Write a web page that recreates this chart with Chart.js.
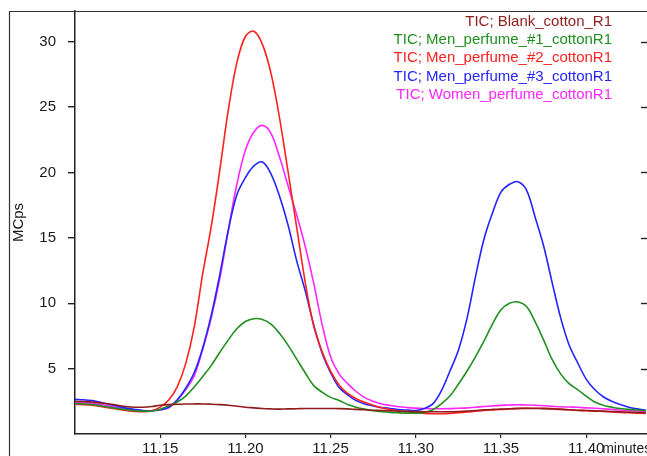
<!DOCTYPE html>
<html>
<head>
<meta charset="utf-8">
<script src="https://cdn.jsdelivr.net/npm/chart.js@4.4.1/dist/chart.umd.min.js"></script>
<style>
  html, body { margin: 0; padding: 0; background: #fff; overflow: hidden; }
  canvas { display: block; }
</style>
</head>
<body>
<canvas id="tic" width="647" height="456"></canvas>
<script>
// retention time, minutes
const times = [
  11.100, 11.105, 11.110, 11.115, 11.120, 11.125, 11.130, 11.135, 11.140, 11.145,
  11.150, 11.155, 11.160, 11.165, 11.170, 11.175, 11.180, 11.185, 11.190, 11.195,
  11.200, 11.205, 11.210, 11.215, 11.220, 11.225, 11.230, 11.235, 11.240, 11.245,
  11.250, 11.255, 11.260, 11.265, 11.270, 11.275, 11.280, 11.285, 11.290, 11.295,
  11.300, 11.305, 11.310, 11.315, 11.320, 11.325, 11.330, 11.335, 11.340, 11.345,
  11.350, 11.355, 11.360, 11.365, 11.370, 11.375, 11.380, 11.385, 11.390, 11.395,
  11.400, 11.405, 11.410, 11.415, 11.420, 11.425, 11.430, 11.435
];

// TIC intensity, MCps
const blankCotton = [
  2.50, 2.48, 2.45, 2.38, 2.30, 2.20, 2.10, 2.05, 2.05, 2.10,
  2.20, 2.25, 2.27, 2.29, 2.30, 2.30, 2.28, 2.25, 2.20, 2.12,
  2.05, 2.00, 1.95, 1.92, 1.90, 1.92, 1.93, 1.95, 1.95, 1.95,
  1.95, 1.94, 1.92, 1.88, 1.85, 1.82, 1.80, 1.77, 1.75, 1.73,
  1.72, 1.70, 1.70, 1.70, 1.70, 1.72, 1.75, 1.80, 1.85, 1.88,
  1.90, 1.93, 1.95, 1.96, 1.95, 1.94, 1.92, 1.88, 1.85, 1.82,
  1.80, 1.77, 1.75, 1.72, 1.70, 1.67, 1.65, 1.62
];
const menPerfume1 = [
  2.33, 2.30, 2.25, 2.15, 2.05, 1.95, 1.85, 1.78, 1.75, 1.76,
  1.90, 2.15, 2.45, 2.90, 3.60, 4.40, 5.25, 6.25, 7.20, 8.05,
  8.60, 8.82, 8.75, 8.40, 7.70, 6.80, 5.75, 4.70, 3.72, 3.20,
  2.80, 2.57, 2.25, 2.05, 1.90, 1.78, 1.70, 1.65, 1.62, 1.60,
  1.60, 1.65, 1.85, 2.30, 2.90, 3.80, 4.80, 5.90, 7.10, 8.40,
  9.50, 10.00, 10.10, 9.75, 8.60, 7.20, 5.70, 4.60, 3.85, 3.40,
  2.90, 2.45, 2.20, 2.05, 1.95, 1.88, 1.84, 1.80
];
const menPerfume2 = [
  2.27, 2.25, 2.20, 2.10, 2.00, 1.90, 1.80, 1.72, 1.70, 1.78,
  2.06, 2.60, 3.60, 5.40, 8.20, 12.30, 15.90, 20.20, 24.80, 28.40,
  30.40, 30.80, 29.80, 27.60, 24.20, 20.10, 15.90, 11.70, 8.30, 6.30,
  4.80, 3.75, 3.10, 2.70, 2.42, 2.20, 2.00, 1.88, 1.78, 1.70,
  1.64, 1.58, 1.55, 1.55, 1.58, 1.63, 1.68, 1.74, 1.80, 1.84,
  1.87, 1.92, 1.96, 1.97, 1.97, 1.96, 1.94, 1.90, 1.85, 1.80,
  1.78, 1.75, 1.72, 1.68, 1.65, 1.62, 1.60, 1.58
];
const menPerfume3 = [
  2.65, 2.62, 2.55, 2.42, 2.28, 2.12, 1.98, 1.88, 1.80, 1.78,
  1.85, 2.05, 2.60, 3.50, 4.70, 6.60, 9.10, 12.20, 15.60, 18.30,
  19.60, 20.50, 20.80, 19.90, 18.20, 16.00, 13.30, 11.00, 8.40, 6.20,
  4.70, 3.55, 3.00, 2.55, 2.30, 2.15, 2.03, 1.95, 1.87, 1.83,
  1.80, 1.95, 2.30, 3.30, 4.80, 6.40, 8.80, 12.00, 14.90, 16.90,
  18.50, 19.10, 19.30, 18.65, 16.60, 14.40, 11.60, 8.90, 6.80, 5.45,
  4.20, 3.40, 2.85, 2.50, 2.25, 2.05, 1.92, 1.82
];
const womenPerfume = [
  2.42, 2.40, 2.35, 2.25, 2.15, 2.00, 1.90, 1.82, 1.78, 1.78,
  1.85, 2.00, 2.60, 3.40, 4.45, 6.50, 8.90, 11.90, 15.60, 19.10,
  21.70, 23.10, 23.60, 23.00, 21.20, 19.00, 16.80, 14.40, 11.60, 8.40,
  5.90, 4.60, 3.85, 3.25, 2.78, 2.50, 2.30, 2.18, 2.08, 2.02,
  1.98, 1.95, 1.93, 1.93, 1.94, 1.97, 2.00, 2.05, 2.10, 2.15,
  2.19, 2.22, 2.24, 2.22, 2.20, 2.16, 2.12, 2.08, 2.06, 2.04,
  2.00, 1.97, 1.93, 1.88, 1.84, 1.80, 1.76, 1.73
];

const seriesLabels = [
  'TIC; Blank_cotton_R1',
  'TIC; Men_perfume_#1_cottonR1',
  'TIC; Men_perfume_#2_cottonR1',
  'TIC; Men_perfume_#3_cottonR1',
  'TIC; Women_perfume_cottonR1'
];
const xTickValues = [11.15, 11.20, 11.25, 11.30, 11.35, 11.40];
const yTickValues = [5, 10, 15, 20, 25, 30];

const FONT = '"Liberation Sans", Arial, sans-serif';
const INK = '#1a1a1a';
const colors = ['#8e1c1c', '#1f8f1f', '#ff2020', '#2424ff', '#ff26ff'];

Chart.defaults.font.family = FONT;
Chart.defaults.font.size = 15;
Chart.defaults.color = INK;

function toPoints(values) {
  return values.map((v, i) => ({ x: times[i], y: v }));
}

// frame, mirrored right ticks, text-only legend and the "minutes" unit
const decorations = {
  id: 'decorations',
  afterDraw(chart) {
    const { ctx, chartArea, scales } = chart;
    ctx.save();

    ctx.strokeStyle = '#333';
    ctx.lineWidth = 1.2;
    ctx.beginPath();
    ctx.moveTo(9.5, chart.height);
    ctx.lineTo(9.5, chartArea.top + 0.5);
    ctx.lineTo(chart.width, chartArea.top + 0.5);
    ctx.stroke();

    ctx.strokeStyle = '#222';
    ctx.lineWidth = 1.4;
    scales.y.ticks.forEach(t => {
      const py = Math.round(scales.y.getPixelForValue(t.value)) + 0.5;
      ctx.beginPath();
      ctx.moveTo(chartArea.right - 6, py);
      ctx.lineTo(chartArea.right, py);
      ctx.stroke();
    });

    ctx.font = '15px ' + FONT;
    ctx.textAlign = 'right';
    ctx.textBaseline = 'middle';
    chart.data.datasets.forEach((ds, i) => {
      ctx.fillStyle = ds.borderColor;
      ctx.fillText(ds.label, 612, 21.5 + i * 18.3);
    });

    ctx.font = '14px ' + FONT;
    ctx.textAlign = 'left';
    ctx.textBaseline = 'alphabetic';
    ctx.fillStyle = INK;
    const lastX = scales.x.getPixelForValue(xTickValues[xTickValues.length - 1]);
    ctx.fillText('minutes', lastX + 16, 453);

    ctx.restore();
  }
};

const seriesValues = [blankCotton, menPerfume1, menPerfume2, menPerfume3, womenPerfume];

new Chart(document.getElementById('tic'), {
  type: 'line',
  data: {
    datasets: seriesValues.map((vals, i) => ({
      label: seriesLabels[i],
      data: toPoints(vals),
      borderColor: colors[i],
      backgroundColor: colors[i],
      borderWidth: 1.6,
      pointRadius: 0,
      tension: 0.35,
      fill: false
    }))
  },
  options: {
    responsive: false,
    animation: false,
    layout: { padding: { top: 11, left: 0, right: 0, bottom: 0 } },
    plugins: {
      legend: { display: false },
      tooltip: { enabled: false }
    },
    scales: {
      x: {
        type: 'linear',
        min: 11.10,
        max: 11.4357,
        afterBuildTicks: scale => { scale.ticks = xTickValues.map(v => ({ value: v })); },
        afterFit: scale => {
          scale.height = 22;
          scale.paddingLeft = 0;
          scale.paddingRight = 0;
        },
        grid: { drawOnChartArea: false, tickLength: 4, color: '#222', lineWidth: 1.2 },
        border: { color: '#222', width: 1.5 },
        ticks: {
          padding: 2,
          maxRotation: 0,
          autoSkip: false,
          color: INK,
          callback: v => Number(v).toFixed(2)
        }
      },
      y: {
        min: 0,
        max: 32.35,
        afterBuildTicks: scale => { scale.ticks = yTickValues.map(v => ({ value: v })); },
        afterFit: scale => {
          scale.width = 75;
          scale.paddingTop = 0;
          scale.paddingBottom = 0;
        },
        grid: { drawOnChartArea: false, tickLength: 7, color: '#222', lineWidth: 1.4 },
        border: { color: '#222', width: 1.5 },
        ticks: { padding: 12, color: INK, callback: v => String(v) },
        title: {
          display: true,
          text: 'MCps',
          color: INK,
          font: { size: 15 },
          padding: { top: 10, bottom: 0 }
        }
      }
    }
  },
  plugins: [decorations]
});
</script>
</body>
</html>
